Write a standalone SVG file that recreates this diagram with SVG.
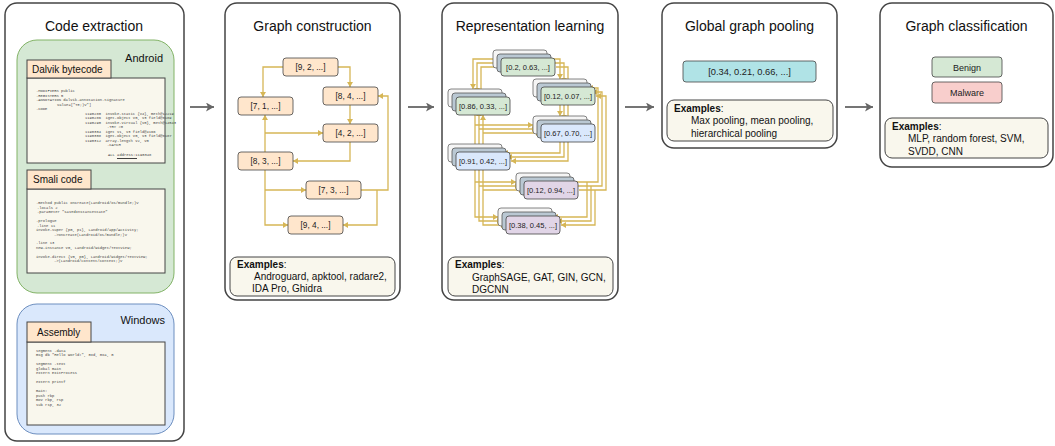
<svg xmlns="http://www.w3.org/2000/svg" xmlns:xlink="http://www.w3.org/1999/xlink" width="1055" height="446" viewBox="0 0 1055 446">
<style>
.panel{fill:#fff;stroke:#444;stroke-width:1.5}
.title{font-family:"Liberation Sans",Arial,sans-serif;font-size:14px;fill:#111;text-anchor:middle}
.tab{fill:#ffe6cc;stroke:#444;stroke-width:1}
.tabt{font-family:"Liberation Sans",Arial,sans-serif;font-size:10px;fill:#111}
.code{fill:#f9f7ed;stroke:#444;stroke-width:1}
.mono{font-family:"Liberation Mono","Courier New",monospace;font-size:3.8px;fill:#444;white-space:pre}
.os{font-family:"Liberation Sans",Arial,sans-serif;font-size:11px;fill:#111;text-anchor:end}
.gn{fill:#ffe6cc;stroke:#444;stroke-width:0.8}
.nl{font-family:"Liberation Sans",Arial,sans-serif;font-size:8.3px;fill:#222;text-anchor:middle}
.rl{font-family:"Liberation Sans",Arial,sans-serif;font-size:7.5px;fill:#222;text-anchor:middle}
.edge{fill:none;stroke:#d6b656;stroke-width:1.3;marker-end:url(#ya)}
.flow{fill:none;stroke:#666;stroke-width:1.8;marker-end:url(#ga)}
.ex{fill:#f9f7ed;stroke:#444;stroke-width:1}
.ext{font-family:"Liberation Sans",Arial,sans-serif;font-size:10px;fill:#111}
.l0{fill:#f5f5f5;stroke:#666;stroke-width:0.8}
.l1{fill:#bac8d3;stroke:#555;stroke-width:0.8}
.green{fill:#d5e8d4;stroke:#444;stroke-width:0.8}
.blue{fill:#dae8fc;stroke:#444;stroke-width:0.8}
.purple{fill:#e1d5e7;stroke:#444;stroke-width:0.8}
</style>
<defs>
<marker id="ya" markerWidth="6" markerHeight="6" refX="5" refY="3" orient="auto" markerUnits="userSpaceOnUse">
<path d="M0,0 L5,3 L0,6 Z" fill="#d6b656"/>
</marker>
<marker id="ga" markerWidth="9" markerHeight="9" refX="8" refY="4.5" orient="auto" markerUnits="userSpaceOnUse">
<path d="M0,0 L8,4.5 L0,9 L2,4.5 Z" fill="#666"/>
</marker>
<g id="gedges">
<path d="M283,67 H263 V97"/>
<path d="M338,67 H350 V87"/>
<path d="M350,105 V124"/>
<path d="M265,152 V115"/>
<path d="M265,133 H323"/>
<path d="M350,142 V161 H293"/>
<path d="M265,170 V225 H288"/>
<path d="M265,190 H306"/>
<path d="M361,190 H388 V96 H378"/>
<path d="M377,190 V225 H343"/>
</g>
</defs>

<!-- Panel 1: Code extraction -->
<g id="code-extraction">
<rect class="panel" x="5" y="3" width="179" height="438" rx="12"/>
<text class="title" x="94" y="31">Code extraction</text>
</g>
<g id="android">
<rect x="17" y="40" width="157" height="253" rx="20" fill="#d5e8d4" stroke="#82b366" stroke-width="1"/>
<text class="os" x="163" y="62">Android</text>
</g>
<g id="dalvik">
<rect class="code" x="27" y="78" width="138" height="85"/>
<rect class="tab" x="27" y="60" width="84" height="18"/>
<text class="tabt" x="32" y="73">Dalvik bytecode</text>
<text class="mono" x="36" y="92">.MODIFIERS public</text>
<text class="mono" x="36" y="96.5">.REGISTERS 5</text>
<text class="mono" x="36" y="101">.ANNOTATION dalvik.annotation.Signature</text>
<text class="mono" x="57" y="105.5">value=["TE;)V"]</text>
<text class="mono" x="36" y="110">.CODE</text>
<text class="mono" x="85" y="114.5">1190280  invoke-static {v4}, meth@12219</text>
<text class="mono" x="85" y="119">1190286  iget-object v0, v3 field@8189</text>
<text class="mono" x="85" y="123.5">1190290  invoke-virtual {v0}, meth@14543</text>
<text class="mono" x="107" y="128">.TRY #0</text>
<text class="mono" x="85" y="132.5">1190304  iget v1, v3 field@4166</text>
<text class="mono" x="85" y="137">1190308  iget-object v0, v3 field@8187</text>
<text class="mono" x="85" y="141.5">1190312  array-length v2, v0</text>
<text class="mono" x="107" y="146">.CATCH</text>
<text class="mono" x="108" y="156">ALL address:1190348</text>
<line x1="117" y1="158.5" x2="137" y2="158.5" stroke="#111" stroke-width="0.8"/>
</g>
<g id="smali">
<rect class="code" x="27" y="189" width="138" height="84"/>
<rect class="tab" x="27" y="170" width="64" height="19"/>
<text class="tabt" x="33" y="183">Smali code</text>
<text class="mono" x="36" y="204">.method public onCreate(Landroid/os/Bundle;)V</text>
<text class="mono" x="37" y="208.5">.locals 2</text>
<text class="mono" x="37" y="213">.parameter "savedInstanceState"</text>
<text class="mono" x="36" y="222">.prologue</text>
<text class="mono" x="37" y="226.5">.line 11</text>
<text class="mono" x="36" y="231">invoke-super {p0, p1}, Landroid/app/Activity;</text>
<text class="mono" x="54" y="235.5">-&gt;onCreate(Landroid/os/Bundle;)V</text>
<text class="mono" x="36" y="244">.line 13</text>
<text class="mono" x="36" y="248.5">new-instance v0, Landroid/widget/TextView;</text>
<text class="mono" x="36" y="257.5">invoke-direct {v0, p0}, Landroid/widget/TextView;</text>
<text class="mono" x="54" y="262">-&gt;(Landroid/content/Context;)V</text>
</g>
<g id="windows">
<rect x="17" y="304" width="157" height="130" rx="20" fill="#dae8fc" stroke="#6c8ebf" stroke-width="1"/>
<text class="os" x="165" y="324">Windows</text>
</g>
<g id="assembly">
<rect class="code" x="27" y="342" width="138" height="83"/>
<rect class="tab" x="27" y="322" width="64" height="20"/>
<text class="tabt" x="37" y="336">Assembly</text>
<text class="mono" x="36" y="351.5">segment .data</text>
<text class="mono" x="36" y="356">msg db "Hello world!", 0xd, 0xa, 0</text>
<text class="mono" x="36" y="365">segment .text</text>
<text class="mono" x="36" y="369.5">global main</text>
<text class="mono" x="36" y="374">extern ExitProcess</text>
<text class="mono" x="36" y="383">extern printf</text>
<text class="mono" x="36" y="392">main:</text>
<text class="mono" x="36" y="396.5">push rbp</text>
<text class="mono" x="36" y="401">mov rbp, rsp</text>
<text class="mono" x="36" y="405.5">sub rsp, 32</text>
</g>

<!-- Panel 2: Graph construction -->
<g id="graph-construction">
<rect class="panel" x="225" y="3" width="175" height="297" rx="12"/>
<text class="title" x="312.5" y="31">Graph construction</text>
</g>
<g id="graph-edges" class="edge">
<use xlink:href="#gedges"/>
</g>
<g id="g-n92"><rect class="gn" x="283" y="58" width="55" height="18" rx="3"/><text class="nl" x="310.5" y="70">[9, 2, ...]</text></g>
<g id="g-n84"><rect class="gn" x="323" y="87" width="55" height="18" rx="3"/><text class="nl" x="350.5" y="99">[8, 4, ...]</text></g>
<g id="g-n71"><rect class="gn" x="238" y="97" width="55" height="18" rx="3"/><text class="nl" x="265.5" y="109">[7, 1, ...]</text></g>
<g id="g-n42"><rect class="gn" x="323" y="124" width="55" height="18" rx="3"/><text class="nl" x="350.5" y="136">[4, 2, ...]</text></g>
<g id="g-n83"><rect class="gn" x="238" y="152" width="55" height="18" rx="3"/><text class="nl" x="265.5" y="164">[8, 3, ...]</text></g>
<g id="g-n73"><rect class="gn" x="306" y="181" width="55" height="18" rx="3"/><text class="nl" x="333.5" y="193">[7, 3, ...]</text></g>
<g id="g-n94"><rect class="gn" x="288" y="216" width="55" height="18" rx="3"/><text class="nl" x="315.5" y="228">[9, 4, ...]</text></g>
<g id="g-examples">
<rect class="ex" x="230" y="257" width="165" height="39" rx="7"/>
<text class="ext" x="237" y="268"><tspan font-weight="bold">Examples</tspan>:</text>
<text class="ext" x="254" y="280">Androguard, apktool, radare2,</text>
<text class="ext" x="252" y="292">IDA Pro, Ghidra</text>
</g>

<!-- Panel 3: Representation learning -->
<g id="representation-learning">
<rect class="panel" x="442" y="3" width="176" height="297" rx="12"/>
<text class="title" x="530" y="31">Representation learning</text>
</g>
<g id="rep-edges" class="edge">
<use xlink:href="#gedges" transform="translate(210,-8)"/>
<use xlink:href="#gedges" transform="translate(214,-4)"/>
<use xlink:href="#gedges" transform="translate(218,0)"/>
</g>
<g id="r-n92">
<rect class="l0" x="493" y="50" width="54" height="18" rx="3"/><rect class="l1" x="497" y="54" width="54" height="18" rx="3"/><rect class="green" x="501" y="58" width="54" height="18" rx="3"/>
<text class="rl" x="528" y="70">[0.2, 0.63, ...]</text></g>
<g id="r-n84">
<rect class="l0" x="533" y="79" width="54" height="18" rx="3"/><rect class="l1" x="537" y="83" width="54" height="18" rx="3"/><rect class="green" x="541" y="87" width="54" height="18" rx="3"/>
<text class="rl" x="568" y="99">[0.12, 0.07, ...]</text></g>
<g id="r-n71">
<rect class="l0" x="448" y="89" width="54" height="18" rx="3"/><rect class="l1" x="452" y="93" width="54" height="18" rx="3"/><rect class="green" x="456" y="97" width="54" height="18" rx="3"/>
<text class="rl" x="483" y="109">[0.86, 0.33, ...]</text></g>
<g id="r-n42">
<rect class="l0" x="533" y="116" width="54" height="18" rx="3"/><rect class="l1" x="537" y="120" width="54" height="18" rx="3"/><rect class="blue" x="541" y="124" width="54" height="18" rx="3"/>
<text class="rl" x="568" y="136">[0.67, 0.70, ...]</text></g>
<g id="r-n83">
<rect class="l0" x="448" y="144" width="54" height="18" rx="3"/><rect class="l1" x="452" y="148" width="54" height="18" rx="3"/><rect class="blue" x="456" y="152" width="54" height="18" rx="3"/>
<text class="rl" x="483" y="164">[0.91, 0.42, ...]</text></g>
<g id="r-n73">
<rect class="l0" x="516" y="173" width="54" height="18" rx="3"/><rect class="l1" x="520" y="177" width="54" height="18" rx="3"/><rect class="purple" x="524" y="181" width="54" height="18" rx="3"/>
<text class="rl" x="551" y="193">[0.12, 0.94, ...]</text></g>
<g id="r-n94">
<rect class="l0" x="498" y="208" width="54" height="18" rx="3"/><rect class="l1" x="502" y="212" width="54" height="18" rx="3"/><rect class="purple" x="506" y="216" width="54" height="18" rx="3"/>
<text class="rl" x="533" y="228">[0.38, 0.45, ...]</text></g>
<g id="r-examples">
<rect class="ex" x="448" y="257" width="165" height="39" rx="7"/>
<text class="ext" x="455" y="268"><tspan font-weight="bold">Examples</tspan>:</text>
<text class="ext" x="472" y="281">GraphSAGE, GAT, GIN, GCN,</text>
<text class="ext" x="472" y="293">DGCNN</text>
</g>

<!-- Panel 4: Global graph pooling -->
<g id="global-pooling">
<rect class="panel" x="662" y="3" width="175" height="145" rx="12"/>
<text class="title" x="749.5" y="31">Global graph pooling</text>
</g>
<g id="pooled">
<rect x="683" y="61" width="133" height="21" rx="3" fill="#b0e3e6" stroke="#444" stroke-width="0.8"/>
<text x="749.5" y="75" font-family="'Liberation Sans',Arial,sans-serif" font-size="9.3" fill="#222" text-anchor="middle">[0.34, 0.21, 0.66, ...]</text>
</g>
<g id="p-examples">
<rect class="ex" x="667" y="100" width="166" height="41" rx="7"/>
<text class="ext" x="674" y="112"><tspan font-weight="bold">Examples</tspan>:</text>
<text class="ext" x="691" y="124">Max pooling, mean pooling,</text>
<text class="ext" x="691" y="137">hierarchical pooling</text>
</g>

<!-- Panel 5: Graph classification -->
<g id="graph-classification">
<rect class="panel" x="880" y="3" width="173" height="164" rx="12"/>
<text class="title" x="966.5" y="31">Graph classification</text>
</g>
<g id="benign">
<rect x="932" y="57" width="70" height="20" rx="3" fill="#d5e8d4" stroke="#444" stroke-width="0.8"/>
<text x="967" y="70.5" font-family="'Liberation Sans',Arial,sans-serif" font-size="9" fill="#222" text-anchor="middle">Benign</text>
</g>
<g id="malware">
<rect x="932" y="82" width="70" height="21" rx="3" fill="#f8cecc" stroke="#444" stroke-width="0.8"/>
<text x="967" y="96" font-family="'Liberation Sans',Arial,sans-serif" font-size="9" fill="#222" text-anchor="middle">Malware</text>
</g>
<g id="c-examples">
<rect class="ex" x="885" y="118" width="163" height="40" rx="7"/>
<text class="ext" x="892" y="130"><tspan font-weight="bold">Examples</tspan>:</text>
<text class="ext" x="908" y="142">MLP, random forest, SVM,</text>
<text class="ext" x="908" y="155">SVDD, CNN</text>
</g>

<!-- Flow arrows -->
<g id="flow-arrows">
<path class="flow" d="M190,107 H214"/>
<path class="flow" d="M408,107 H434"/>
<path class="flow" d="M625,107 H654"/>
<path class="flow" d="M845,107 H873"/>
</g>
</svg>
